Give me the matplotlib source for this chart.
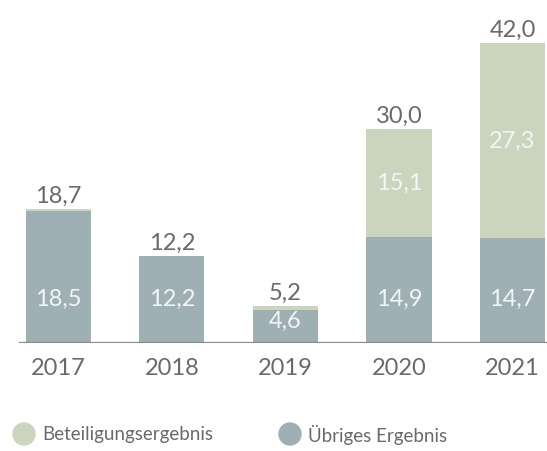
import numpy as np
import matplotlib
matplotlib.use("Agg")
import matplotlib.pyplot as plt
from matplotlib.patches import Ellipse

years = ["2017", "2018", "2019", "2020", "2021"]
uebriges = [18.5, 12.2, 4.6, 14.9, 14.7]
beteiligung = [0.2, 0.0, 0.6, 15.1, 27.3]
totals = [18.7, 12.2, 5.2, 30.0, 42.0]
# only these segments carry a label inside the bar
beteiligung_labels = ["", "", "", "15,1", "27,3"]
uebriges_labels = ["18,5", "12,2", "4,6", "14,9", "14,7"]
legend_names = ["Beteiligungsergebnis", "Übriges Ergebnis"]

col_blue = "#9eb0b3"
col_green = "#cbd5bd"
col_text = "#6a6a6a"
col_inner = "#f2f5f5"

plt.rcParams["font.family"] = ["Lato", "DejaVu Sans"]

W, H = 547, 452
fig = plt.figure(figsize=(W / 100, H / 100), dpi=100)

base_px = 108  # baseline height from the bottom, in pixels
ax = fig.add_axes([0, base_px / H, 1, (H - base_px) / H])
ax.set_xlim(-0.515, 4.304)
ax.set_ylim(0, (H - base_px) / 7.14)
ax.axis("off")

x = np.arange(len(years))
bw = 0.573
ax.bar(x, uebriges, bw, color=col_blue, zorder=2)
ax.bar(x, beteiligung, bw, bottom=uebriges, color=col_green, zorder=2)
ax.axhline(0, xmin=20 / W, xmax=1, color="#8a8a8a", lw=1.6, zorder=3)

fs = 17
for i in range(len(years)):
    ax.text(x[i], totals[i] + 0.45, f"{totals[i]:.1f}".replace(".", ","),
            ha="center", va="bottom", fontsize=fs, color=col_text)
    ax.text(x[i], min(6.3, uebriges[i] * 0.7), uebriges_labels[i],
            ha="center", va="center", fontsize=fs, color=col_inner)
    if beteiligung_labels[i]:
        ax.text(x[i], uebriges[i] + beteiligung[i] / 2, beteiligung_labels[i],
                ha="center", va="center", fontsize=fs, color=col_inner)
    ax.text(x[i], -1.9, years[i], ha="center", va="top", fontsize=fs,
            color=col_text, clip_on=False)

# legend drawn by hand with round markers
for cx, name, c in [(24, legend_names[0], col_green), (290, legend_names[1], col_blue)]:
    fig.patches.append(Ellipse((cx / W, 1 - 435 / H), 22 / W, 22 / H,
                               transform=fig.transFigure, color=c))
    fig.text((cx + 18) / W, 1 - 435 / H, name, ha="left", va="center",
             fontsize=13.5, color=col_text)

fig.savefig("out.png", dpi=100)
